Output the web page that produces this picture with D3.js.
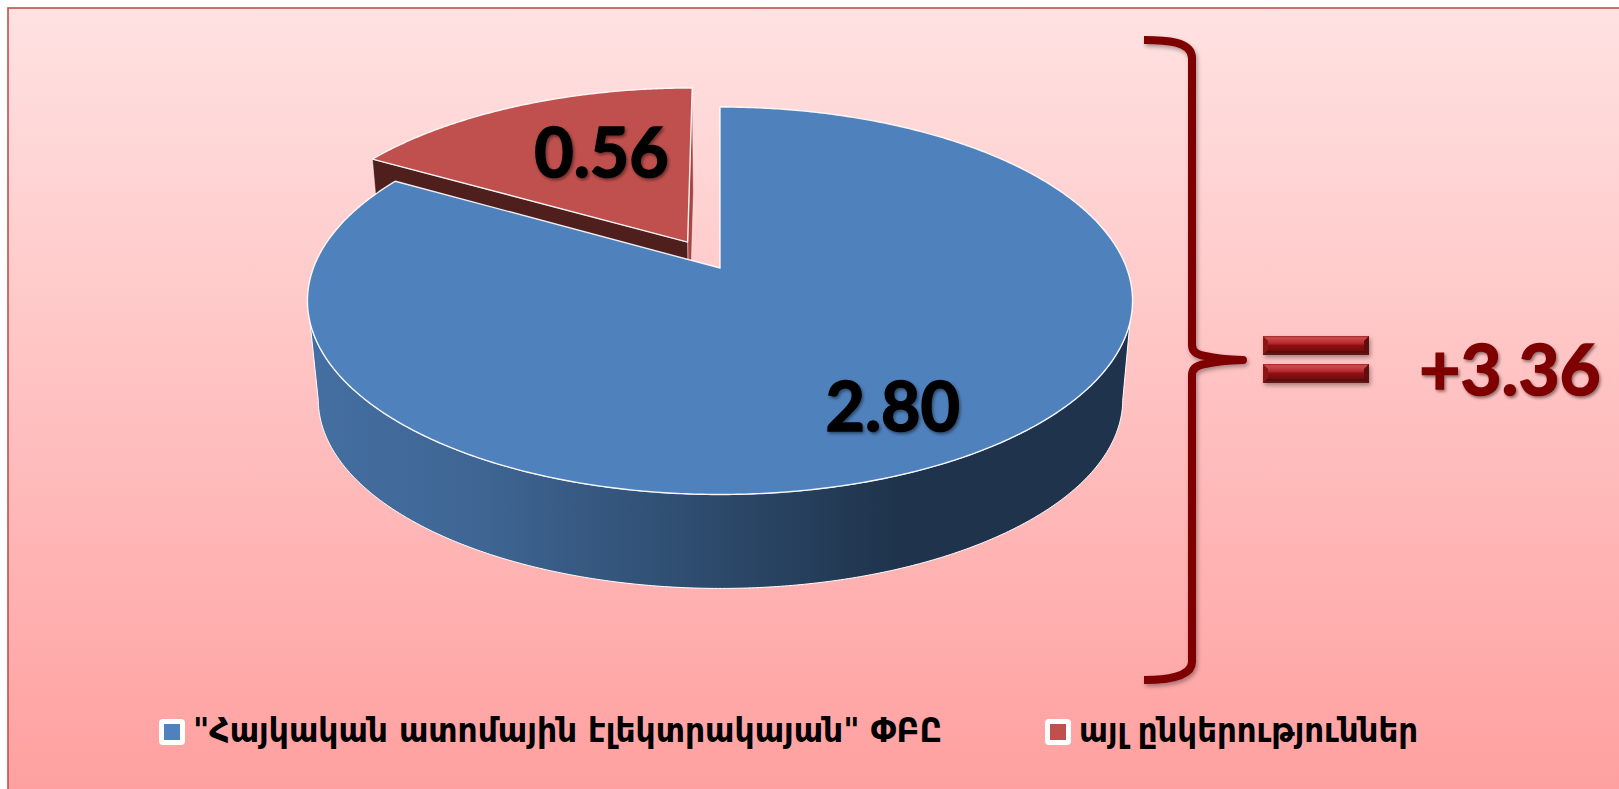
<!DOCTYPE html>
<html>
<head>
<meta charset="utf-8">
<script src="https://cdnjs.cloudflare.com/ajax/libs/d3/7.8.5/d3.min.js"></script>
<style>
  html, body { margin: 0; padding: 0; background: #fff; overflow: hidden; }
  svg { display: block; }
</style>
</head>
<body>
<script>
// data
var categories = ["\"Հայկական ատոմային էլեկտրակայան\" ՓԲԸ", "այլ ընկերություններ"]
var values = [2.80, 0.56]
var total_label = "+3.36"

var width = 1619
var height = 789
var top_colors = ["#4f81bd", "#c0504d"]
var explode = [0, 0.163]
var label_radius = [0.74, 0.62]
var label_turn = [0, 0.108]
var label_nudge = [[4, 28], [2, 28]]
var rad = Math.PI / 180

// perspective of the pie plate: unit circle -> screen
var cx = 720, cy = 268, a = 406.6, b = 188.2, k = 0.169
var shrink = 0.975, drop = 106.3, low_cx = 720.5

function project(u, v, low) {
  var w = 1 - k * v
  var x = cx + a * u / w
  var y = cy + b * v / w
  if (low) return [low_cx + (x - cx) * shrink, y * shrink + drop]
  return [x, y]
}

function rim(angle, r, off, mid, low) {
  var u = Math.sin(mid) * off + Math.sin(angle) * r
  var v = -Math.cos(mid) * off - Math.cos(angle) * r
  return project(u, v, low)
}

function sweep(a0, a1) {
  var n = Math.ceil(Math.abs(a1 - a0) / (0.5 * rad))
  return d3.range(n + 1).map(function(i) { return a0 + (a1 - a0) * i / n })
}

var poly = d3.line().curve(d3.curveLinearClosed)

var svg = d3.select("body").append("svg")
    .attr("width", width)
    .attr("height", height)

var defs = svg.append("defs")

var bg = defs.append("linearGradient").attr("id", "bg")
    .attr("x1", 0).attr("y1", 0).attr("x2", 0).attr("y2", 1)
bg.append("stop").attr("offset", 0).attr("stop-color", "#ffe2e2")
bg.append("stop").attr("offset", 1).attr("stop-color", "#ff9f9f")

var wall = defs.append("linearGradient").attr("id", "wall")
    .attr("gradientUnits", "userSpaceOnUse")
    .attr("x1", 307).attr("y1", 0).attr("x2", 895).attr("y2", 0)
wall.append("stop").attr("offset", 0).attr("stop-color", "#456fa2")
wall.append("stop").attr("offset", 0.3).attr("stop-color", "#3e6593")
wall.append("stop").attr("offset", 1).attr("stop-color", "#1f344c")

var bar = defs.append("linearGradient").attr("id", "bar")
    .attr("x1", 0).attr("y1", 0).attr("x2", 0).attr("y2", 1)
bar.append("stop").attr("offset", 0).attr("stop-color", "#9c2a2d")
bar.append("stop").attr("offset", 0.1).attr("stop-color", "#cf4a4c")
bar.append("stop").attr("offset", 0.38).attr("stop-color", "#b42a2d")
bar.append("stop").attr("offset", 0.5).attr("stop-color", "#8f1114")
bar.append("stop").attr("offset", 0.75).attr("stop-color", "#78090b")
bar.append("stop").attr("offset", 0.82).attr("stop-color", "#560b0c")
bar.append("stop").attr("offset", 1).attr("stop-color", "#641a1b")

function shadow(id, dx, dy, blur, op) {
  defs.append("filter").attr("id", id)
      .attr("x", "-20%").attr("y", "-20%").attr("width", "140%").attr("height", "140%")
      .append("feDropShadow")
      .attr("dx", dx).attr("dy", dy).attr("stdDeviation", blur)
      .attr("flood-color", "#000").attr("flood-opacity", op)
}
shadow("soft", 1.5, 2.5, 2, 0.35)
shadow("txt", 1.5, 2, 1.6, 0.45)

// frame
svg.append("rect")
    .attr("x", 8).attr("y", 8)
    .attr("width", width).attr("height", height)
    .attr("fill", "url(#bg)")
    .attr("stroke", "#c0504d")
    .attr("stroke-width", 1.6)

var pie = d3.pie().sort(null).startAngle(0)
var slices = pie(values)
var plate = svg.append("g")

// red slice first, the blue one hides its lower part
slices.slice().reverse().forEach(function(d) {
  var mid = (d.startAngle + d.endAngle) / 2
  var off = explode[d.index]
  var apex = rim(0, 0, off, mid)
  var apex_low = rim(0, 0, off, mid, true)
  var arc_pts = sweep(d.startAngle, d.endAngle).map(function(t) { return rim(t, 1, off, mid) })

  if (d.index == 1) {
    var s_top = rim(d.startAngle, 1, off, mid), s_low = rim(d.startAngle, 1, off, mid, true)
    var e_top = rim(d.endAngle, 1, off, mid), e_low = rim(d.endAngle, 1, off, mid, true)
    plate.append("path")
        .attr("d", poly([e_top, apex, apex_low, e_low]))
        .attr("fill", "#a84543")
        .attr("stroke", "#fff").attr("stroke-opacity", 0.5).attr("stroke-width", 0.8)
    plate.append("path")
        .attr("d", poly([s_top, apex, apex_low, s_low]))
        .attr("fill", "#4f1f1e")
        .attr("stroke", "#fff").attr("stroke-opacity", 0.6).attr("stroke-width", 0.8)
  } else {
    var outer = sweep(106 * rad, 254 * rad).map(function(t) { return rim(t, 1, off, mid) })
    var lower = sweep(260 * rad, 100 * rad).map(function(t) { return rim(t, 1, off, mid, true) })
    plate.append("path")
        .attr("d", poly(outer.concat(lower)))
        .attr("fill", "url(#wall)")
        .attr("stroke", "#fff").attr("stroke-width", 1)
  }

  plate.append("path")
      .attr("d", poly(arc_pts.concat([apex])))
      .attr("fill", top_colors[d.index])
      .attr("stroke", "#fff")
      .attr("stroke-opacity", 0.9)
      .attr("stroke-width", 1.4)
      .attr("stroke-linejoin", "round")
})

// value labels
slices.forEach(function(d) {
  var mid = (d.startAngle + d.endAngle) / 2
  var p = rim(mid + label_turn[d.index], label_radius[d.index], explode[d.index], mid)
  svg.append("text")
      .attr("x", p[0] + label_nudge[d.index][0])
      .attr("y", p[1] + label_nudge[d.index][1])
      .attr("text-anchor", "middle")
      .attr("font-family", "Lato, sans-serif")
      .attr("font-weight", 700)
      .attr("font-size", 68)
      .attr("fill", "#000")
      .attr("stroke", "#000")
      .attr("stroke-width", 1.6)
      .attr("filter", "url(#txt)")
      .text(d3.format(".2f")(d.data))
})

// brace
svg.append("path")
    .attr("d", "M1144,40 C1165,40 1192,41 1192,58 L1192,345 Q1192,354 1205,356 Q1220,359.5 1243,360 Q1220,360.5 1205,364 Q1192,366 1192,375 L1192,662 C1192,677 1165,680 1144,680")
    .attr("fill", "none")
    .attr("stroke", "#7f0000")
    .attr("stroke-width", 8)
    .attr("stroke-linejoin", "round")
    .attr("filter", "url(#soft)")

// equals sign
var eq = svg.append("g").attr("filter", "url(#soft)")
;[336, 364].forEach(function(y) {
  eq.append("rect")
      .attr("x", 1263).attr("y", y)
      .attr("width", 106).attr("height", 19)
      .attr("fill", "url(#bar)")
  eq.append("path")
      .attr("d", poly([[1263, y], [1268, y + 5], [1268, y + 14], [1263, y + 19]]))
      .attr("fill", "#8a1518")
  eq.append("path")
      .attr("d", poly([[1369, y], [1364, y + 5], [1364, y + 14], [1369, y + 19]]))
      .attr("fill", "#5e0c0e")
})

svg.append("text")
    .attr("x", 1510)
    .attr("y", 395)
    .attr("text-anchor", "middle")
    .attr("font-family", "Lato, sans-serif")
    .attr("font-weight", 700)
    .attr("font-size", 71)
    .attr("fill", "#7f0000")
    .attr("stroke", "#7f0000")
    .attr("stroke-width", 1.6)
    .attr("filter", "url(#txt)")
    .text(total_label)

// legend
var legend_x = [159, 1045]
var legend_w = [749, 339]
categories.forEach(function(c, i) {
  svg.append("rect")
      .attr("x", legend_x[i]).attr("y", 719)
      .attr("width", 26).attr("height", 26)
      .attr("rx", 4)
      .attr("fill", "#fff")
  svg.append("rect")
      .attr("x", legend_x[i] + 5).attr("y", 724)
      .attr("width", 16).attr("height", 16)
      .attr("fill", top_colors[i])
  svg.append("text")
      .attr("x", legend_x[i] + 34)
      .attr("y", 742)
      .attr("font-family", "'DejaVu Sans Condensed', 'DejaVu Sans', sans-serif")
      .attr("font-weight", 700)
      .attr("font-size", 33)
      .attr("textLength", legend_w[i])
      .attr("lengthAdjust", "spacingAndGlyphs")
      .attr("fill", "#000")
      .text(c)
})
</script>
</body>
</html>
